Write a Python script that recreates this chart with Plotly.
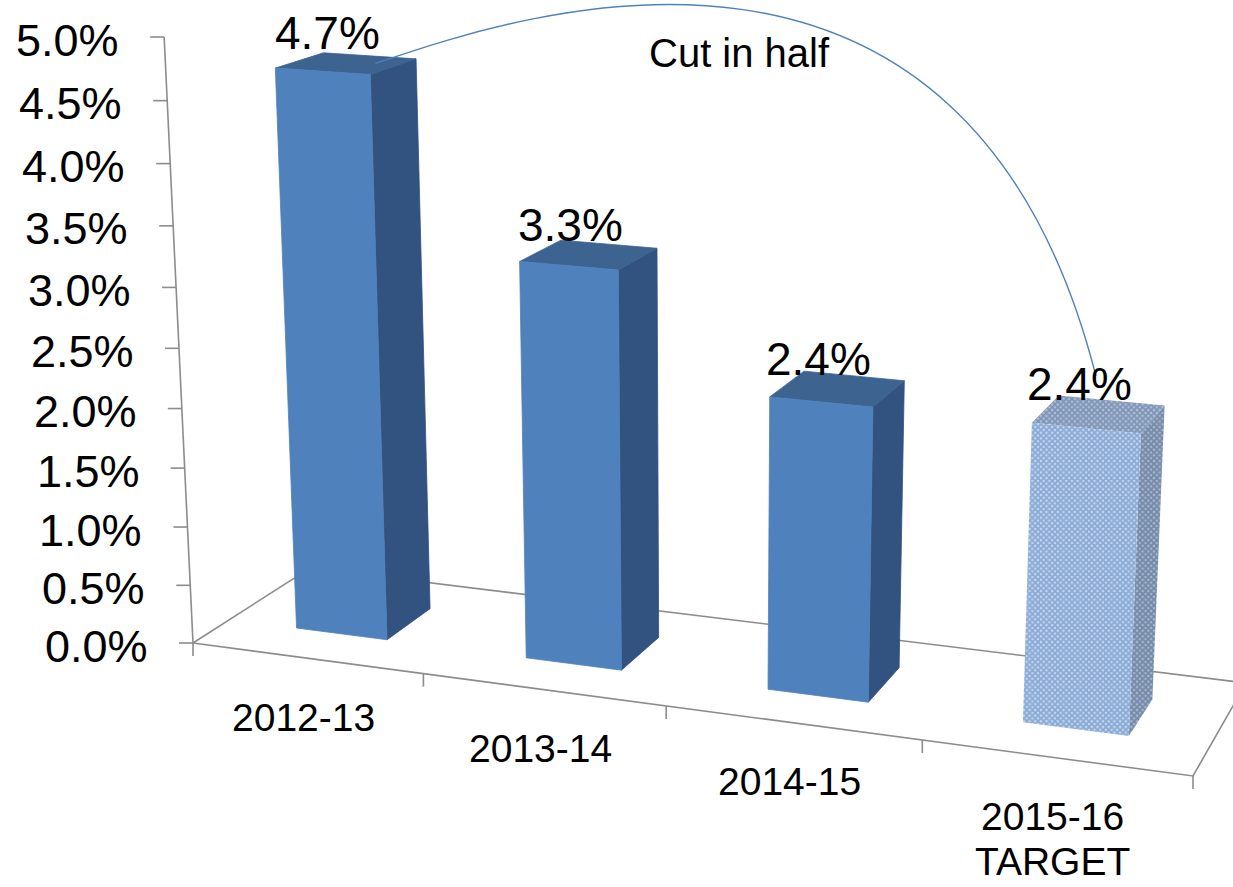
import numpy as np
import plotly.graph_objects as go

# ---------------- data ----------------
categories = ["2012-13", "2013-14", "2014-15", "2015-16<br>TARGET"]
values = [4.7, 3.3, 2.4, 2.4]
is_target = [False, False, False, True]
value_ticks = [0.0, 0.5, 1.0, 1.5, 2.0, 2.5, 3.0, 3.5, 4.0, 4.5, 5.0]
value_tick_labels = [f"{t:.1f}%" for t in value_ticks]
callout_text = "Cut in half"

# ---------------- 3-D perspective camera (layout constants) ----------------
W, H = 1233, 887
N = len(categories)
FLOOR_WORLD = [(0, 0), (N, 0), (0, 1), (N, 1)]            # (X category units, Z depth)
FLOOR_SCREEN = [(193, 643), (1193, 776), (310, 568), (1246, 683)]
VANISH = (705.0, 11400.0)                                  # vertical vanishing point
Y_MAX = 5.0
AXIS_TOP_SCREEN_Y = 37.0
FONT = "Liberation Sans, Arial, sans-serif"


def floor_homography(src, dst):
    A, b = [], []
    for (x, z), (u, v) in zip(src, dst):
        A.append([x, z, 1, 0, 0, 0, -u * x, -u * z]); b.append(u)
        A.append([0, 0, 0, x, z, 1, -v * x, -v * z]); b.append(v)
    h = np.linalg.solve(np.array(A, float), np.array(b, float))
    return np.array([[h[0], h[1], h[2]], [h[3], h[4], h[5]], [h[6], h[7], 1.0]])


Hm = floor_homography(FLOOR_WORLD, FLOOR_SCREEN)
cX, cZ, c1 = Hm[:, 0], Hm[:, 1], Hm[:, 2]
a_, b_, w_ = c1
s_ = (AXIS_TOP_SCREEN_Y * w_ - b_) / (Y_MAX * (VANISH[1] - AXIS_TOP_SCREEN_Y))
cY = s_ * np.array([VANISH[0], VANISH[1], 1.0])


def proj(X, Y, Z):
    h = cX * X + cY * Y + cZ * Z + c1
    return h[0] / h[2], h[1] / h[2]


def poly(pts):
    xs, ys = zip(*[proj(*p) for p in pts])
    return list(xs) + [xs[0]], list(ys) + [ys[0]]


fig = go.Figure()
GRID = "#8C8C8C"


def add_line(xs, ys, color=GRID, width=1.6):
    fig.add_trace(go.Scatter(x=xs, y=ys, mode="lines", line=dict(color=color, width=width),
                             hoverinfo="skip", showlegend=False))


# floor outline
fl = [proj(X, 0, Z) for X, Z in [(0, 0), (N, 0), (N, 1), (0, 1)]]
add_line([fl[0][0], fl[1][0], fl[2][0], fl[3][0], fl[0][0]],
         [fl[0][1], fl[1][1], fl[2][1], fl[3][1], fl[0][1]])

# value axis line + ticks + labels
ax0 = proj(0, 0, 0); ax1 = proj(0, Y_MAX, 0)
add_line([ax0[0], ax1[0]], [ax0[1], ax1[1]])
annotations = []
TICK = 14
for t, lab in zip(value_ticks, value_tick_labels):
    px, py = proj(0, t, 0)
    add_line([px - TICK, px], [py, py])
    annotations.append(dict(x=px - TICK - 29, y=py + 3, text=lab, xanchor="right", yanchor="middle",
                            showarrow=False, font=dict(size=45, color="black", family=FONT)))

# category ticks + labels
for k in range(N + 1):
    px, py = proj(k, 0, 0)
    add_line([px, px], [py, py + 13])
for i, cat in enumerate(categories):
    px, py = proj(i + 0.5, 0, 0)
    for j, line in enumerate(cat.split("<br>")):
        annotations.append(dict(x=px - 3, y=py + 59 + 45 * j, text=line, xanchor="center",
                                yanchor="middle", showarrow=False,
                                font=dict(size=39, color="black", family=FONT)))

# bars
FRONT, SIDE, TOP = "#4F81BD", "#32527F", "#3D6391"
PATTERN = {  # face -> (background, foreground) for the hatched target bar
    "side": ("#A9B7CB", "#3B5B86"),
    "top": ("#B3C1D5", "#47679A"),
    "front": ("#C6D6EC", "#4A7CC0"),
}
X_PAD, Z0, Z1 = 0.3, 0.3, 0.7
for i, (v, tgt) in enumerate(zip(values, is_target)):
    X0, X1 = i + X_PAD, i + 1 - X_PAD
    faces = [
        ("side", [(X1, 0, Z0), (X1, 0, Z1), (X1, v, Z1), (X1, v, Z0)], SIDE),
        ("top", [(X0, v, Z0), (X1, v, Z0), (X1, v, Z1), (X0, v, Z1)], TOP),
        ("front", [(X0, 0, Z0), (X1, 0, Z0), (X1, v, Z0), (X0, v, Z0)], FRONT),
    ]
    for name, pts, col in faces:
        xs, ys = poly(pts)
        if tgt:
            bg, fg = PATTERN[name]
            fig.add_trace(go.Scatter(x=xs, y=ys, mode="lines", fill="toself",
                                     line=dict(color="rgba(0,0,0,0)", width=0),
                                     fillcolor=bg,
                                     fillpattern=dict(shape="x", size=4, solidity=0.7,
                                                      fgcolor=fg, bgcolor=bg),
                                     hoverinfo="skip", showlegend=False))
        else:
            fig.add_trace(go.Scatter(x=xs, y=ys, mode="lines", fill="toself",
                                     line=dict(color=col, width=0.8), fillcolor=col,
                                     hoverinfo="skip", showlegend=False))
    tx, ty = proj(i + 0.5, v, 0.5)
    annotations.append(dict(x=tx - 19, y=ty - 30, text=f"{v:.1f}%", xanchor="center", yanchor="middle",
                            showarrow=False, font=dict(size=46, color="black", family=FONT)))

# callout curve from first bar to target bar
sx, sy = proj(0.5, values[0], 0.5)
sx += 29
ex, ey = proj(N - 0.5, values[-1], 0.5)
ex -= 3; ey -= 38
c1x, c1y = sx + 125, sy - 42
c2x, c2y = ex - 133, ey - 522
fig.add_shape(type="path", xref="x", yref="y",
              path=f"M {sx},{sy} C {c1x},{c1y} {c2x},{c2y} {ex},{ey}",
              line=dict(color="#4F81BD", width=1.4))
mx = (sx + 3 * c1x + 3 * c2x + ex) / 8
my = (sy + 3 * c1y + 3 * c2y + ey) / 8
annotations.append(dict(x=mx + 7, y=my + 45, text=callout_text, xanchor="center", yanchor="middle",
                        showarrow=False, font=dict(size=40, color="black", family=FONT)))

fig.update_layout(
    width=W, height=H, margin=dict(l=0, r=0, t=0, b=0),
    paper_bgcolor="white", plot_bgcolor="white",
    xaxis=dict(range=[0, W], visible=False, fixedrange=True),
    yaxis=dict(range=[H, 0], visible=False, fixedrange=True),
    annotations=annotations, showlegend=False,
)
fig.write_html("out.html", config={"displayModeBar": False},
               post_script="document.body.style.margin='0px';")
